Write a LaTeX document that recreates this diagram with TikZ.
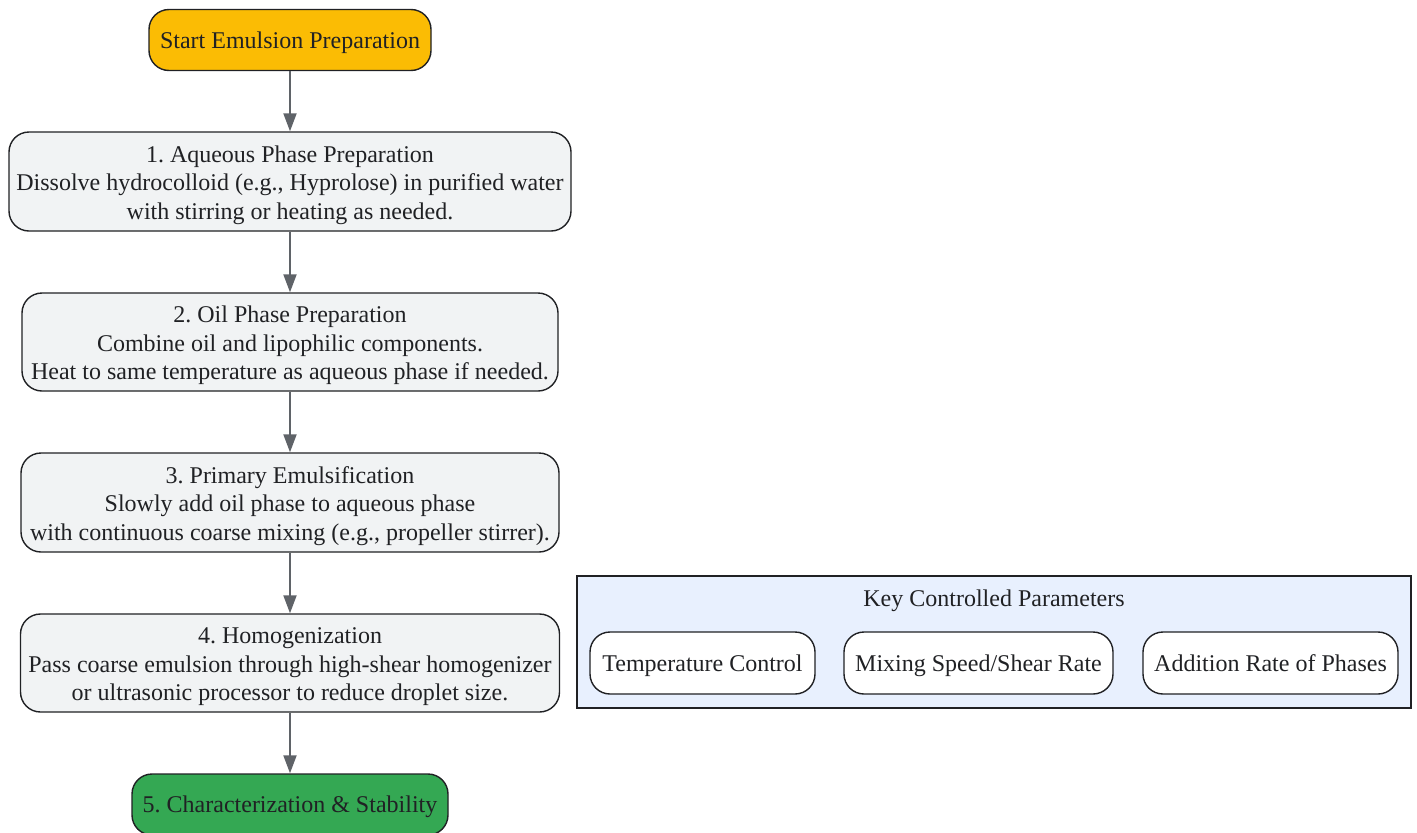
\documentclass[tikz,border=0pt]{standalone}
\usepackage{fontspec}
\setmainfont{Liberation Serif}
\usetikzlibrary{arrows.meta}

\definecolor{startyellow}{HTML}{FBBC04}
\definecolor{endgreen}{HTML}{34A853}
\definecolor{stepgray}{HTML}{F1F3F4}
\definecolor{keyblue}{HTML}{E8F0FE}
\definecolor{linegray}{HTML}{5F6368}
\definecolor{textdark}{HTML}{202124}

\newcommand{\flowfont}{\fontsize{24}{28.5}\selectfont\frenchspacing}

\tikzset{
	flowbox/.style={draw=textdark, line width=1.4pt, rounded corners=20pt, align=center,
		text=textdark, font=\flowfont, inner sep=0pt, text height=16.4pt, text depth=0pt},
	stepbox/.style={flowbox, fill=stepgray, text height=75pt},
	parambox/.style={flowbox, fill=white, minimum height=62pt},
	flowarrow/.style={draw=linegray, line width=2pt, -{Triangle[length=18pt,width=13pt]}}
}

\begin{document}
\begin{tikzpicture}[x=1pt,y=-1pt]
	\useasboundingbox (0,0) rectangle (1417,833);

	\node[flowbox, fill=startyellow, minimum width=282pt, minimum height=61pt] (start) at (290,40) {Start Emulsion Preparation};

	\node[stepbox, minimum width=562pt, minimum height=99pt] (aqueous) at (290,181.5)
		{1. Aqueous Phase Preparation\\Dissolve hydrocolloid (e.g., Hyprolose) in purified water\\with stirring or heating as needed.};
	\node[stepbox, minimum width=536pt, minimum height=98pt] (oil) at (290,342)
		{2. Oil Phase Preparation\\Combine oil and lipophilic components.\\Heat to same temperature as aqueous phase if needed.};
	\node[stepbox, minimum width=538pt, minimum height=99pt] (primary) at (290,502.5)
		{3. Primary Emulsification\\Slowly add oil phase to aqueous phase\\with continuous coarse mixing (e.g., propeller stirrer).};
	\node[stepbox, minimum width=539pt, minimum height=98pt] (homog) at (290,663)
		{4. Homogenization\\Pass coarse emulsion through high-shear homogenizer\\or ultrasonic processor to reduce droplet size.};

	\node[flowbox, fill=endgreen, minimum width=316pt, minimum height=61pt] (charact) at (290,804.5) {5. Characterization \& Stability};

	\draw[flowarrow] (start) -- (aqueous);
	\draw[flowarrow] (aqueous) -- (oil);
	\draw[flowarrow] (oil) -- (primary);
	\draw[flowarrow] (primary) -- (homog);
	\draw[flowarrow] (homog) -- (charact);

	% parameter group
	\node[draw=textdark, line width=1.4pt, fill=keyblue, minimum width=834pt, minimum height=132pt, inner sep=0pt] (params) at (994,642) {};
	\node[text=textdark, font=\flowfont] (paramstitle) at (994,600.5) {Key Controlled Parameters};

	\node[parambox, minimum width=225pt] (tempctl) at (702.5,663) {Temperature Control};
	\node[parambox, minimum width=269pt] (mixing) at (978.5,663) {Mixing Speed/Shear Rate};
	\node[parambox, minimum width=255pt] (addrate) at (1270.5,663) {Addition Rate of Phases};
\end{tikzpicture}
\end{document}
